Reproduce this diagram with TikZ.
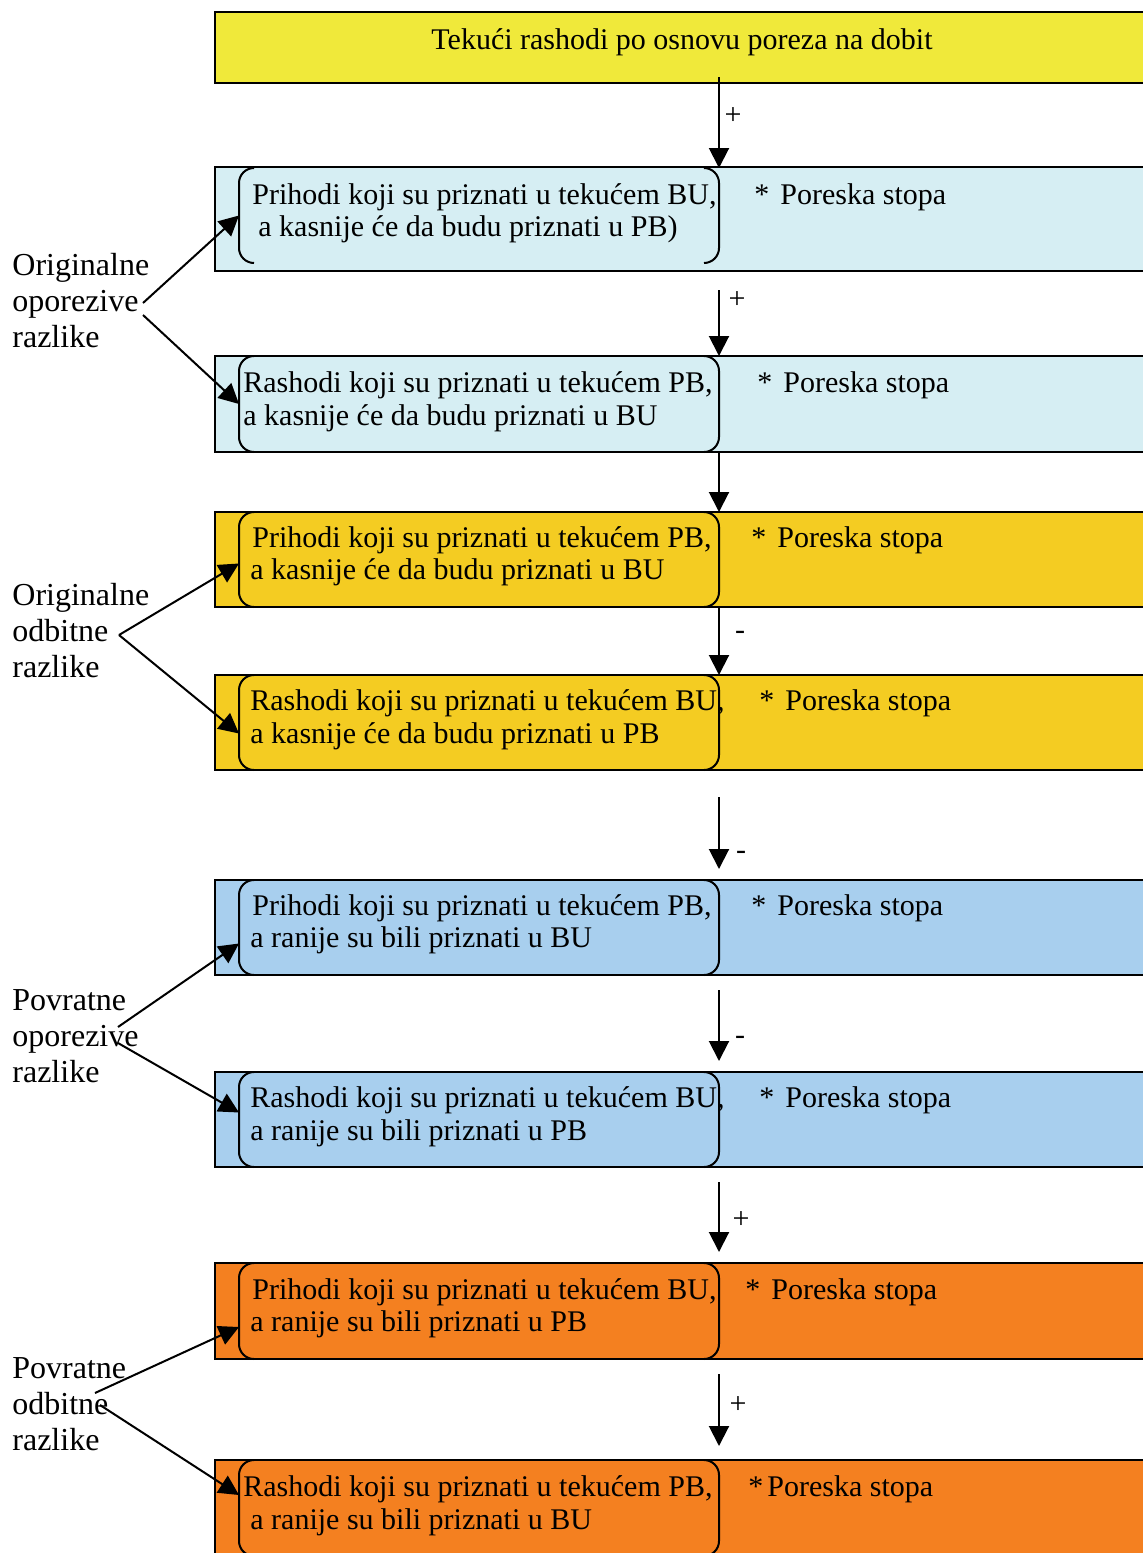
\documentclass[tikz,border=0pt]{standalone}
\usepackage{fontspec}
\setmainfont{Liberation Serif}
\usetikzlibrary{arrows.meta,calc}

\definecolor{titlefill}{HTML}{F0E93A}
\definecolor{cyanfill}{HTML}{D6EEF3}
\definecolor{goldfill}{HTML}{F4CC22}
\definecolor{bluefill}{HTML}{A8CFEE}
\definecolor{orangefill}{HTML}{F48020}

\begin{document}
\begin{tikzpicture}[x=0.5pt,y=-0.5pt,
  band/.style={draw=black, line width=1pt, rectangle, inner sep=0pt, outer sep=0pt,
               anchor=north west, minimum width=467pt},
  hole/.style={rectangle, inner sep=0pt, outer sep=0pt, anchor=north west, minimum width=240pt},
  brk/.style={draw=black, line width=1pt, rounded corners=7.5pt},
  txt/.style={anchor=base west, inner sep=0pt, font=\fontsize{15pt}{18pt}\selectfont},
  lbl/.style={anchor=base west, inner sep=0pt, font=\fontsize{16pt}{18pt}\selectfont},
  sign/.style={inner sep=0pt, font=\fontsize{15pt}{18pt}\selectfont},
  flow/.style={draw=black, line width=1pt, -{Triangle[width=10pt,length=10pt]}}]

\useasboundingbox (0,0) rectangle (1143,1553);
\clip (0,0) rectangle (1143,1553);

% coloured bands
\node[band, fill=titlefill,  minimum height=35.5pt] (top) at (215,12) {};
\node[band, fill=cyanfill,   minimum height=52pt]   (b1) at (215,167) {};
\node[band, fill=cyanfill,   minimum height=48pt]   (b2) at (215,356) {};
\node[band, fill=goldfill,   minimum height=47.5pt] (b3) at (215,512) {};
\node[band, fill=goldfill,   minimum height=47.5pt] (b4) at (215,675) {};
\node[band, fill=bluefill,   minimum height=47.5pt] (b5) at (215,880) {};
\node[band, fill=bluefill,   minimum height=47.5pt] (b6) at (215,1072) {};
\node[band, fill=orangefill, minimum height=48pt]   (b7) at (215,1263) {};
\node[band, fill=orangefill, minimum height=48pt]   (b8) at (215,1460) {};

% inner bracketed fields
\node[hole, minimum height=47.5pt] (in1) at (239,168) {};
\node[hole, minimum height=48pt]   (in2) at (239,356) {};
\node[hole, minimum height=47.5pt] (in3) at (239,512) {};
\node[hole, minimum height=47.5pt] (in4) at (239,675) {};
\node[hole, minimum height=47.5pt] (in5) at (239,880) {};
\node[hole, minimum height=47.5pt] (in6) at (239,1072) {};
\node[hole, minimum height=48pt]   (in7) at (239,1263) {};
\node[hole, minimum height=48pt]   (in8) at (239,1460) {};
\foreach \n in {in1,in2,in3,in4,in5,in6,in7,in8} {
  \draw[brk] ($(\n.north west)+(15,0)$) -- (\n.north west) -- (\n.south west) -- ($(\n.south west)+(15,0)$);
  \draw[brk] ($(\n.north east)+(-15,0)$) -- (\n.north east) -- (\n.south east) -- ($(\n.south east)+(-15,0)$);
}

% texts
\node[txt, anchor=base] (ttop) at (682,49) {Tekući rashodi po osnovu poreza na dobit};

\node[txt] (t1a) at (252,204) {Prihodi koji su priznati u tekućem BU,};
\node[txt] (t1b) at (258,236) {a kasnije će da budu priznati u PB)};
\node[txt] (t1c) at (754,204) {*\hspace{5.5pt}Poreska stopa};

\node[txt] (t2a) at (243,392) {Rashodi koji su priznati u tekućem PB,};
\node[txt] (t2b) at (243,425) {a kasnije će da budu priznati u BU};
\node[txt] (t2c) at (757,392) {*\hspace{5.5pt}Poreska stopa};

\node[txt] (t3a) at (252,547) {Prihodi koji su priznati u tekućem PB,};
\node[txt] (t3b) at (250,579) {a kasnije će da budu priznati u BU};
\node[txt] (t3c) at (751,547) {*\hspace{5.5pt}Poreska stopa};

\node[txt] (t4a) at (250,710) {Rashodi koji su priznati u tekućem BU,};
\node[txt] (t4b) at (250,743) {a kasnije će da budu priznati u PB};
\node[txt] (t4c) at (759,710) {*\hspace{5.5pt}Poreska stopa};

\node[txt] (t5a) at (252,915) {Prihodi koji su priznati u tekućem PB,};
\node[txt] (t5b) at (250,947) {a ranije su bili priznati u BU};
\node[txt] (t5c) at (751,915) {*\hspace{5.5pt}Poreska stopa};

\node[txt] (t6a) at (250,1107) {Rashodi koji su priznati u tekućem BU,};
\node[txt] (t6b) at (250,1140) {a ranije su bili priznati u PB};
\node[txt] (t6c) at (759,1107) {*\hspace{5.5pt}Poreska stopa};

\node[txt] (t7a) at (252,1299) {Prihodi koji su priznati u tekućem BU,};
\node[txt] (t7b) at (250,1331) {a ranije su bili priznati u PB};
\node[txt] (t7c) at (745,1299) {*\hspace{5.5pt}Poreska stopa};

\node[txt] (t8a) at (243,1496) {Rashodi koji su priznati u tekućem PB,};
\node[txt] (t8b) at (250,1529) {a ranije su bili priznati u BU};
\node[txt] (t8c) at (748,1496) {*\hspace{2pt}Poreska stopa};

% group labels
\node[lbl] (l1a) at (12,275) {Originalne};
\node[lbl] (l1b) at (12,311) {oporezive};
\node[lbl] (l1c) at (12,347) {razlike};
\node[lbl] (l2a) at (12,605) {Originalne};
\node[lbl] (l2b) at (12,641) {odbitne};
\node[lbl] (l2c) at (12,677) {razlike};
\node[lbl] (l3a) at (12,1010) {Povratne};
\node[lbl] (l3b) at (12,1046) {oporezive};
\node[lbl] (l3c) at (12,1082) {razlike};
\node[lbl] (l4a) at (12,1378) {Povratne};
\node[lbl] (l4b) at (12,1414) {odbitne};
\node[lbl] (l4c) at (12,1450) {razlike};

% vertical flow
\coordinate (s1) at (719,77);
\coordinate (s2) at (719,290);
\coordinate (s5) at (719,797);
\coordinate (s6) at (719,990);
\coordinate (s7) at (719,1182);
\coordinate (s8) at (719,1374);
\draw[flow] (s1) -- (in1.north east);
\draw[flow] (s2) -- (in2.north east);
\draw[flow] (in2.south east) -- (in3.north east);
\draw[flow] (in3.south east) -- (in4.north east);
\draw[flow] (s5) -- ($(in5.north east)+(0,-11)$);
\draw[flow] (s6) -- ($(in6.north east)+(0,-11)$);
\draw[flow] (s7) -- ($(in7.north east)+(0,-11)$);
\draw[flow] (s8) -- ($(in8.north east)+(0,-14)$);

\node[sign] (p1) at (733,116) {+};
\node[sign] (p2) at (737,300) {+};
\node[sign] (m3) at (740,635) {-};
\node[sign] (m4) at (741,855) {-};
\node[sign] (m5) at (740,1040) {-};
\node[sign] (p6) at (741,1220) {+};
\node[sign] (p7) at (738,1405) {+};

% group connectors
\coordinate (g1u) at (143,303);
\coordinate (g1d) at (143,315);
\coordinate (g2)  at (119,635);
\coordinate (g3u) at (118,1027);
\coordinate (g3d) at (118,1043);
\coordinate (g4u) at (95,1393);
\coordinate (g4d) at (100,1405);
\draw[flow] (g1u) -- (in1.west);
\draw[flow] (g1d) -- (in2.west);
\draw[flow] (g2) -- ($(in3.west)+(0,4)$);
\draw[flow] (g2) -- ($(in4.west)+(0,11)$);
\draw[flow] (g3u) -- ($(in5.west)+(0,16)$);
\draw[flow] (g3d) -- ($(in6.west)+(0,-7)$);
\draw[flow] (g4u) -- ($(in7.west)+(0,16)$);
\draw[flow] (g4d) -- ($(in8.west)+(0,-13)$);
\end{tikzpicture}
\end{document}
